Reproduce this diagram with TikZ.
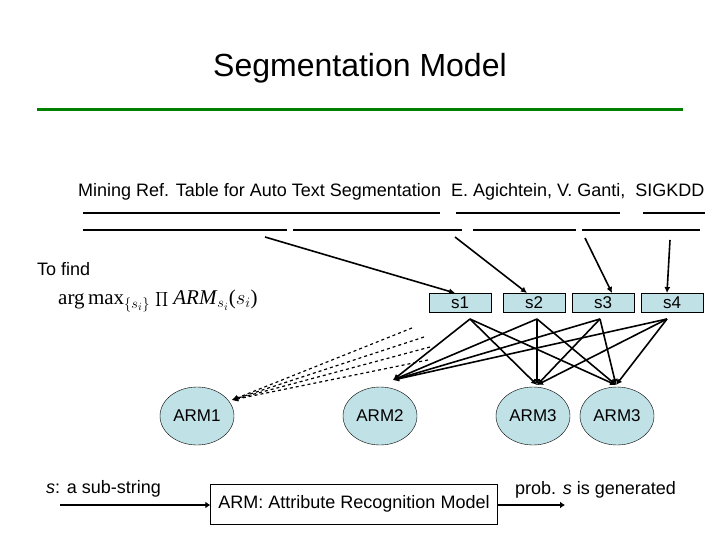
\documentclass[tikz,border=0pt]{standalone}
\usepackage{fontspec}
\setmainfont{Liberation Sans}
\usetikzlibrary{arrows.meta,shapes.geometric}
\definecolor{boxblue}{RGB}{192,225,230}
\definecolor{titlegreen}{RGB}{0,128,0}
\tikzset{
  bar/.style={line width=2.5pt},
  link/.style={line width=1.6pt,-{Latex[length=6pt,width=6pt]}},
  dlink/.style={line width=1.2pt,dashed,-{Latex[length=6pt,width=6pt]}},
}
\begin{document}
\begin{tikzpicture}[x=1pt,y=-1pt,
    sbox/.style={draw=black,thin,fill=boxblue,minimum width=62pt,minimum height=19pt,inner sep=0pt,font=\fontsize{17}{17}\selectfont},
    arm/.style={ellipse,draw=black,thin,fill=boxblue,minimum width=74pt,minimum height=58pt,inner sep=0pt,font=\fontsize{17}{17}\selectfont},
    txt/.style={inner sep=0pt,font=\fontsize{18}{18}\selectfont},
]
\useasboundingbox (0,0) rectangle (720,540);
% title
\node[inner sep=0pt,font=\fontsize{32}{32}\selectfont] (title) at (360,68) {Segmentation Model};
\draw[titlegreen,line width=3pt] (37,110) -- (683,110);
% text and segments
\node[txt,anchor=west] (ref) at (78,192) {Mining Ref. Table for Auto Text Segmentation\ \ E. Agichtein, V. Ganti,\ \ SIGKDD};
\draw[bar] (83,213) -- (440,213) (456,213) -- (620,213) (643,213) -- (705,213);
\draw[bar] (83,230) -- (287,230) (293,230) -- (462,230) (473,230) -- (576,230) (582,230) -- (700,230);
\coordinate (c1) at (265,237);
\coordinate (c2) at (455,237);
\coordinate (c3) at (585,238);
\coordinate (c4) at (670,240);
% to find
\node[txt,anchor=west] (find) at (37,269) {To find};
\node[inner sep=0pt,anchor=west,font=\fontsize{21}{21}\selectfont] (formula) at (58,301)
  {\fontspec{Liberation Serif}arg$\,$max$_{\{s_i\}}$ $\displaystyle\prod$ \textit{ARM}$_{s_i}$($s_i$)};
% segments
\node[sbox] (s1) at (460,303) {s1};
\node[sbox] (s2) at (534,303) {s2};
\node[sbox] (s3) at (603,303) {s3};
\node[sbox] (s4) at (672,303) {s4};
\coordinate (e1) at (455,293);
\coordinate (e2) at (527,293);
\coordinate (e3) at (612,293);
\coordinate (e4) at (667,293);
\foreach \i in {1,...,4}
  \draw[link] (c\i) -- (e\i);
% models
\node[arm] (arm1) at (197,416) {ARM1};
\node[arm] (arm2) at (380,416) {ARM2};
\node[arm] (arm3) at (533,416) {ARM3};
\node[arm] (arm4) at (617,416) {ARM3};
\coordinate (t2) at (393,380);
\coordinate (t3) at (537,385);
\coordinate (t4) at (616,385);
\coordinate (t1) at (232,400);
\foreach \s/\x in {s1/470,s2/537,s3/600,s4/667}{
  \coordinate (\s b) at (\x,319);
  \foreach \t in {t2,t3,t4}
    \draw[link] (\s b) -- (\t);
}
\foreach \p in {(412,328),(424,337),(430,347),(428,360)}
  \draw[dlink] \p -- (t1);
% legend
\node[txt,anchor=west] (sub) at (46,489) {\textit{s}: a sub-string};
\node[draw=black,thin,minimum width=287pt,minimum height=40pt,inner sep=0pt,font=\fontsize{18}{18}\selectfont] (armbox) at (354,504) {ARM: Attribute Recognition Model};
\node[txt,anchor=west] (prob) at (515,490) {prob. \textit{s} is generated};
\coordinate (in) at (60,505);
\coordinate (out) at (565,505);
\draw[line width=2.5pt,-{Latex[length=5pt,width=7pt]}] (in) -- (armbox.west |- in);
\draw[line width=2.5pt,-{Latex[length=5pt,width=7pt]}] (armbox.east |- out) -- (out);
\end{tikzpicture}
\end{document}
